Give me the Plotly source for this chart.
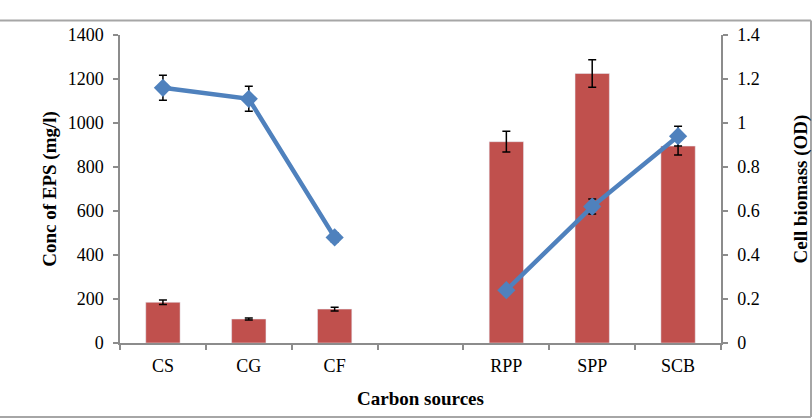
import plotly.graph_objects as go

categories = ["CS", "CG", "CF", " ", "RPP", "SPP", "SCB"]
eps_conc = [185, 109, 154, None, 915, 1225, 895]
eps_err = [10, 5, 8, None, 47, 62, 41]
biomass = [1.16, 1.11, 0.48, None, 0.24, 0.62, 0.94]
biomass_err = [0.057, 0.057, 0.02, None, 0.01, 0.034, 0.045]

left_ticks = [0, 200, 400, 600, 800, 1000, 1200, 1400]
right_ticks = [0, 0.2, 0.4, 0.6, 0.8, 1, 1.2, 1.4]

W, H = 812, 418
ML, MR, MT, MB = 120, 91, 35, 75
pw, ph = W - ML - MR, H - MT - MB

FF = "Liberation Serif"
axis_col = "#8C8C8C"
tick_font = dict(family=FF, size=18, color="black")
title_font = dict(family=FF, size=19, color="black")

fig = go.Figure()
fig.add_trace(go.Bar(
    x=categories, y=eps_conc, marker_color="#C0504D",
    error_y=dict(type="data", array=eps_err, color="black", thickness=1.5, width=4),
    yaxis="y", name="EPS",
))
fig.add_trace(go.Scatter(
    x=categories, y=biomass, mode="lines+markers", connectgaps=False,
    line=dict(color="#4F81BD", width=4.5),
    marker=dict(symbol="diamond", size=14, color="#4F81BD"),
    error_y=dict(type="data", array=biomass_err, color="black", thickness=1.5, width=4),
    yaxis="y2", name="Biomass",
))

def px_x(px):
    return (px - ML) / pw

def px_y(py):
    return (H - MB - py) / ph

border = dict(color="#A6A6A6", width=2)
shapes = [
    dict(type="line", xref="paper", yref="paper", x0=px_x(0), x1=px_x(811), y0=px_y(20.5), y1=px_y(20.5), line=border),
    dict(type="line", xref="paper", yref="paper", x0=px_x(811), x1=px_x(811), y0=px_y(20.5), y1=px_y(417), line=border),
    dict(type="line", xref="paper", yref="paper", x0=px_x(0), x1=px_x(811), y0=px_y(417), y1=px_y(417), line=border),
]

fig.update_layout(
    width=W, height=H,
    margin=dict(l=ML, r=MR, t=MT, b=MB, pad=0, autoexpand=False),
    paper_bgcolor="white", plot_bgcolor="white",
    showlegend=False,
    bargap=0.6,
    font=dict(family=FF, size=18, color="black"),
    shapes=shapes,
    xaxis=dict(
        type="category", categoryorder="array", categoryarray=categories,
        automargin=False,
        showline=True, linecolor=axis_col, linewidth=1.5,
        ticks="outside", tickson="boundaries", ticklen=5, tickcolor=axis_col, tickwidth=1.5,
        ticklabelstandoff=6,
        showgrid=False, zeroline=False,
        tickfont=tick_font,
        title=dict(text="<b>Carbon sources</b>", font=title_font, standoff=16),
    ),
    yaxis=dict(
        range=[0, 1400], tickvals=left_ticks,
        automargin=False,
        showline=True, linecolor=axis_col, linewidth=1.5,
        ticks="outside", ticklen=5, tickcolor=axis_col, tickwidth=1.5,
        ticklabelstandoff=6,
        showgrid=False, zeroline=False,
        tickfont=tick_font,
        title=dict(text="<b>Conc of EPS (mg/l)</b>", font=title_font, standoff=6),
    ),
    yaxis2=dict(
        range=[0, 1.4], tickvals=right_ticks, ticktext=[str(t) for t in right_ticks],
        overlaying="y", side="right",
        automargin=False,
        showline=True, linecolor=axis_col, linewidth=1.5,
        ticks="outside", ticklen=5, tickcolor=axis_col, tickwidth=1.5,
        ticklabelstandoff=6,
        showgrid=False, zeroline=False,
        tickfont=tick_font,
        title=dict(text="<b>Cell biomass (OD)</b>", font=title_font, standoff=36),
    ),
)

fig.write_html("out.html")
